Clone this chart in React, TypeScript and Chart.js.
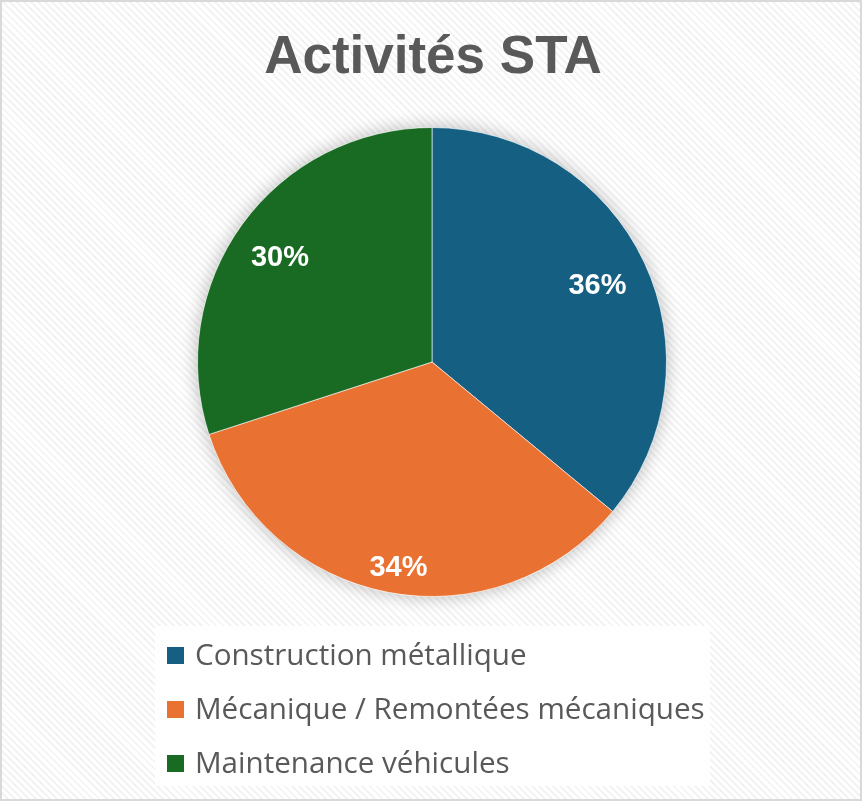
import React, { useEffect, useRef } from "react";
import { Chart, registerables } from "chart.js";

Chart.register(...registerables);

const TITLE = "Activités STA";
const CATEGORIES = [
  "Construction métallique",
  "Mécanique / Remontées mécaniques",
  "Maintenance véhicules",
];
const LEGEND_LABELS = [
  "Construction métallique",
  "Mécanique / Remontées mécaniques",
  "Maintenance véhicules",
];
const VALUES = [36, 34, 30];
const COLORS = ["#156082", "#E97132", "#196B24"];

const LEGEND_FONT = "'Open Sans', 'Noto Sans', sans-serif";
const BOLD_FONT = "'Liberation Sans', Arial, sans-serif";

export default function App() {
  const ref = useRef<HTMLCanvasElement | null>(null);

  useEffect(() => {
    document.body.style.margin = "0";
    const canvas = ref.current;
    if (!canvas) return;

    const decor = {
      id: "decor",
      beforeDatasetsDraw(chart: any) {
        const meta = chart.getDatasetMeta(0);
        const arc = meta.data[0];
        if (!arc) return;
        const { x, y, outerRadius } = arc.getProps(["x", "y", "outerRadius"], true);
        const ctx = chart.ctx;
        ctx.save();
        ctx.shadowColor = "rgba(0,0,0,0.28)";
        ctx.shadowBlur = 18;
        ctx.beginPath();
        ctx.arc(x, y, outerRadius, 0, Math.PI * 2);
        ctx.fillStyle = "#ffffff";
        ctx.fill();
        ctx.restore();
      },
      afterDraw(chart: any) {
        const ctx = chart.ctx;
        const meta = chart.getDatasetMeta(0);
        const total = VALUES.reduce((a, b) => a + b, 0);
        const factors = [0.78, 0.88, 0.79];
        const shifts = [0, -0.025, -0.02];
        ctx.save();
        // data labels
        ctx.fillStyle = "#ffffff";
        ctx.font = `bold 29px ${BOLD_FONT}`;
        ctx.textAlign = "center";
        ctx.textBaseline = "middle";
        meta.data.forEach((el: any, i: number) => {
          const p = el.getProps(["x", "y", "startAngle", "endAngle", "outerRadius"], true);
          const mid = (p.startAngle + p.endAngle) / 2 + shifts[i];
          const r = p.outerRadius * factors[i];
          const pct = Math.round((VALUES[i] / total) * 100) + "%";
          ctx.fillText(pct, p.x + Math.cos(mid) * r, p.y + Math.sin(mid) * r + 2);
        });
        // title
        ctx.fillStyle = "#595959";
        ctx.font = `bold 53px ${BOLD_FONT}`;
        ctx.fillText(TITLE, 433, 58);
        // legend
        ctx.fillStyle = "rgba(255,255,255,0.85)";
        ctx.fillRect(155, 626, 555, 160);
        ctx.textAlign = "left";
        ctx.font = `29.6px ${LEGEND_FONT}`;
        LEGEND_LABELS.forEach((lab, i) => {
          const cy = 655 + i * 54;
          ctx.fillStyle = COLORS[i];
          ctx.fillRect(167, cy - 8, 17, 17);
          ctx.fillStyle = "#595959";
          ctx.fillText(lab, 195, cy + 2);
        });
        ctx.restore();
      },
    };

    const chart = new Chart(canvas, {
      type: "pie",
      data: {
        labels: CATEGORIES,
        datasets: [
          {
            data: VALUES,
            backgroundColor: COLORS,
            borderColor: "rgba(255,255,255,0.6)",
            borderWidth: 1,
          },
        ],
      },
      options: {
        responsive: false,
        animation: false,
        layout: { padding: { left: 197, right: 195, top: 127, bottom: 204 } },
        plugins: {
          legend: { display: false },
          title: { display: false },
          tooltip: { enabled: false },
        },
      },
      plugins: [decor],
    });
    return () => chart.destroy();
  }, []);

  return (
    <div
      style={{
        position: "relative",
        width: 862,
        height: 801,
        boxSizing: "border-box",
        border: "2px solid #d9d9d9",
        background:
          "repeating-linear-gradient(45deg, #ffffff 0px, #ffffff 3px, #f3f3f3 3px, #f3f3f3 5px)",
      }}
    >
      <canvas
        ref={ref}
        width={862}
        height={801}
        style={{ position: "absolute", left: -2, top: -2, width: 862, height: 801 }}
      />
    </div>
  );
}
